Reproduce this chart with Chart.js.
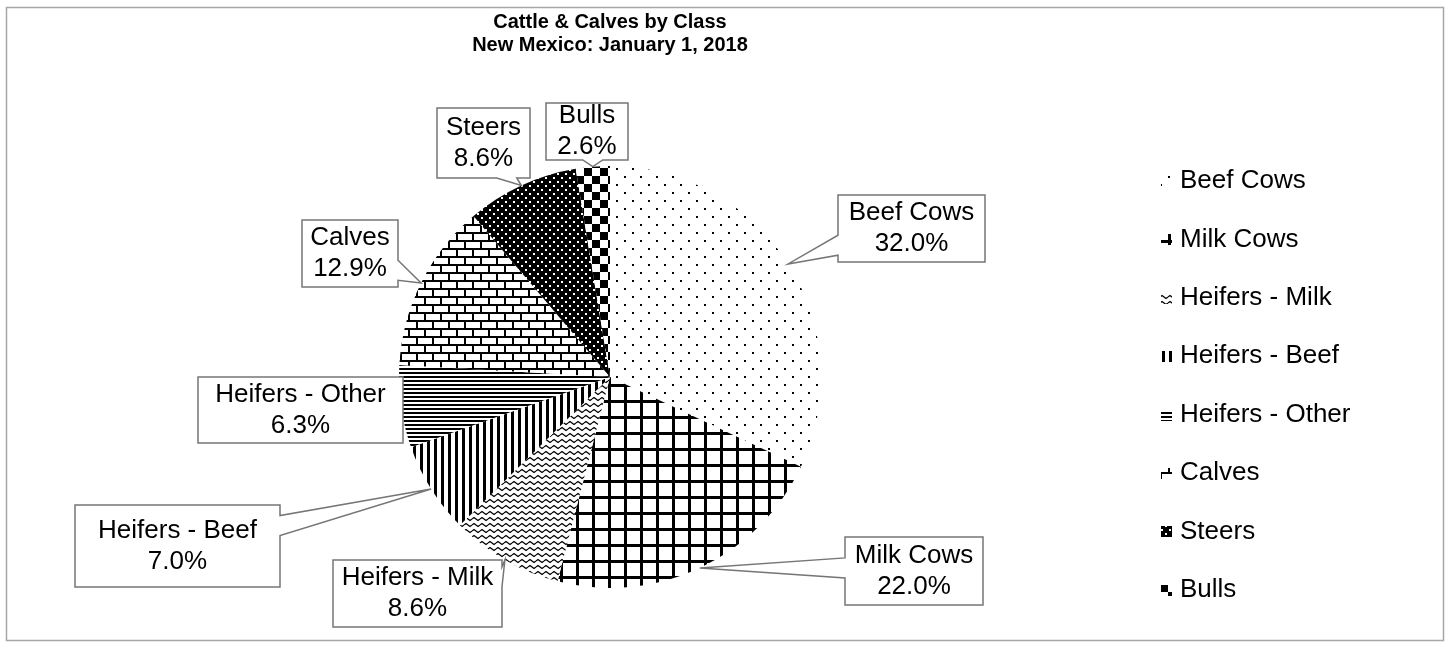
<!DOCTYPE html>
<html>
<head>
<meta charset="utf-8">
<script src="https://cdn.jsdelivr.net/npm/chart.js@4/dist/chart.umd.min.js"></script>
<style>
  body { margin: 0; background: #fff; }
  #wrap { width: 1450px; height: 648px; }
</style>
</head>
<body>
<div id="wrap"><canvas id="pie" width="1450" height="648"></canvas></div>
<script>
// data
let categories = ['Beef Cows', 'Milk Cows', 'Heifers - Milk', 'Heifers - Beef', 'Heifers - Other', 'Calves', 'Steers', 'Bulls'];
let shares = [32.0, 22.0, 8.6, 7.0, 6.3, 12.9, 8.6, 2.6];
let titleLines = ['Cattle & Calves by Class', 'New Mexico: January 1, 2018'];

// label box layout: [left, top, width, height]
let labelBoxes = [
    [838, 195, 147, 67],
    [845, 537, 138, 68],
    [333, 560, 169, 67],
    [75, 505, 205, 82],
    [198, 377, 205, 66],
    [302, 220, 96, 67],
    [437, 108, 93, 70],
    [546, 103, 82, 57]
];

const FONT = '"Liberation Sans", Arial, sans-serif';

function makePattern(w, h, draw, bg) {
    let c = document.createElement('canvas');
    c.width = w;
    c.height = h;
    let g = c.getContext('2d');
    g.fillStyle = bg || '#fff';
    g.fillRect(0, 0, w, h);
    g.fillStyle = '#000';
    g.strokeStyle = '#000';
    draw(g);
    return g.createPattern(c, 'repeat');
}

// one hatch per class, black on white like the original
let patterns = [
    makePattern(16, 16, g => { g.fillRect(0, 0, 2, 2); g.fillRect(8, 8, 2, 2); }),
    makePattern(16, 16, g => { g.fillRect(0, 0, 16, 3); g.fillRect(0, 0, 3, 16); }),
    makePattern(8, 6, g => {
        g.lineWidth = 1.3;
        g.beginPath();
        g.moveTo(0, 3); g.lineTo(2, 1.5); g.lineTo(4, 3); g.lineTo(6, 4.5); g.lineTo(8, 3);
        g.stroke();
    }),
    makePattern(7, 4, g => { g.fillRect(0, 0, 3, 4); }),
    makePattern(4, 4, g => { g.fillRect(0, 0, 4, 2); }),
    makePattern(16, 16, g => {
        g.fillRect(0, 0, 16, 2); g.fillRect(0, 8, 16, 2);
        g.fillRect(0, 0, 2, 8); g.fillRect(8, 8, 2, 8);
    }),
    makePattern(8, 8, g => {
        g.fillStyle = '#fff';
        g.fillRect(1, 1, 2, 2); g.fillRect(5, 5, 2, 2);
    }, '#000'),
    makePattern(16, 16, g => { g.fillRect(0, 0, 8, 8); g.fillRect(8, 8, 8, 8); })
];

// box outline with a wedge pointing at the slice
function calloutPath(ctx, b, tip) {
    let l = b[0], t = b[1], r = b[0] + b[2], bt = b[1] + b[3];
    let hw = 10;
    let mx = Math.max(12, b[2] * 0.25), my = Math.max(12, b[3] * 0.25);
    let side = null;
    if (tip.x < l) side = 'left';
    else if (tip.x > r) side = 'right';
    else if (tip.y > bt) side = 'bottom';
    else if (tip.y < t) side = 'top';
    let clamp = (v, a, z) => Math.max(a, Math.min(z, v));

    ctx.beginPath();
    ctx.moveTo(l, t);
    if (side == 'top') {
        let c = clamp(tip.x, l + mx, r - mx);
        ctx.lineTo(c - hw, t); ctx.lineTo(tip.x, tip.y); ctx.lineTo(c + hw, t);
    }
    ctx.lineTo(r, t);
    if (side == 'right') {
        let c = clamp(tip.y, t + my, bt - my);
        ctx.lineTo(r, c - hw); ctx.lineTo(tip.x, tip.y); ctx.lineTo(r, c + hw);
    }
    ctx.lineTo(r, bt);
    if (side == 'bottom') {
        let c = clamp(tip.x, l + mx, r - mx);
        ctx.lineTo(c + hw, bt); ctx.lineTo(tip.x, tip.y); ctx.lineTo(c - hw, bt);
    }
    ctx.lineTo(l, bt);
    if (side == 'left') {
        let c = clamp(tip.y, t + my, bt - my);
        ctx.lineTo(l, c + hw); ctx.lineTo(tip.x, tip.y); ctx.lineTo(l, c - hw);
    }
    ctx.closePath();
}

const extras = {
    id: 'extras',
    afterDraw(chart) {
        let ctx = chart.ctx;
        let meta = chart.getDatasetMeta(0);
        ctx.save();

        // outer frame
        ctx.strokeStyle = '#a6a6a6';
        ctx.lineWidth = 1.5;
        ctx.strokeRect(6.5, 7.5, 1437, 633);

        // callout labels
        ctx.font = '26px ' + FONT;
        ctx.textAlign = 'center';
        ctx.textBaseline = 'middle';
        for (let i = 0; i < meta.data.length; i++) {
            let arc = meta.data[i];
            let mid = (arc.startAngle + arc.endAngle) / 2;
            let tip = {
                x: arc.x + Math.cos(mid) * arc.outerRadius,
                y: arc.y + Math.sin(mid) * arc.outerRadius
            };
            let b = labelBoxes[i];
            calloutPath(ctx, b, tip);
            ctx.fillStyle = '#fff';
            ctx.fill();
            ctx.strokeStyle = '#767676';
            ctx.lineWidth = 1.5;
            ctx.stroke();

            ctx.fillStyle = '#000';
            let cx = b[0] + b[2] / 2;
            let cy = b[1] + b[3] / 2;
            ctx.fillText(categories[i], cx, cy - 15.5);
            ctx.fillText(shares[i].toFixed(1) + '%', cx, cy + 15.5);
        }

        // legend
        let legendX = 1161, legendTop = 181, legendStep = 58.4;
        ctx.textAlign = 'left';
        for (let i = 0; i < categories.length; i++) {
            let y = legendTop + i * legendStep;
            ctx.fillStyle = patterns[i];
            ctx.fillRect(legendX, Math.round(y - 5), 11, 11);
            ctx.fillStyle = '#000';
            ctx.fillText(categories[i], legendX + 19, y);
        }
        ctx.restore();
    }
};

let pieChart = new Chart(document.getElementById('pie'), {
    type: 'pie',
    data: {
        labels: categories,
        datasets: [{
            data: shares,
            backgroundColor: patterns,
            borderWidth: 0,
            hoverOffset: 0
        }]
    },
    options: {
        responsive: false,
        animation: false,
        rotation: 0,
        layout: {
            padding: { left: 399, right: 629, top: 0, bottom: 24 }
        },
        plugins: {
            legend: { display: false },
            tooltip: { enabled: false },
            title: {
                display: true,
                text: titleLines,
                color: '#000',
                font: { family: FONT, size: 20, weight: 'bold', lineHeight: 1.15 },
                padding: { top: 10.5, bottom: 73.5 }
            }
        }
    },
    plugins: [extras]
});
</script>
</body>
</html>
